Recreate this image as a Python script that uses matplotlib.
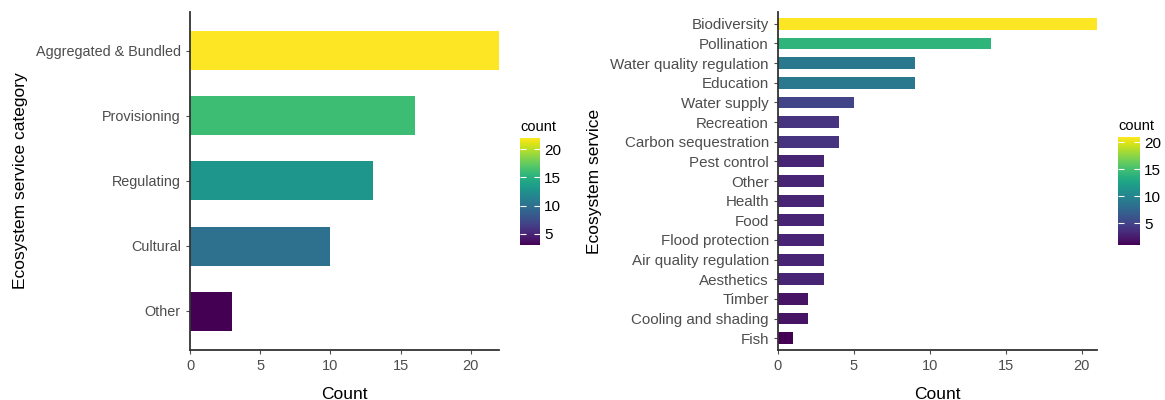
import numpy as np
import matplotlib
matplotlib.use("Agg")
import matplotlib.pyplot as plt
from matplotlib import cm, colors

plt.rcParams['font.family'] = ['Liberation Sans', 'DejaVu Sans']

# left panel data
categories = ["Aggregated & Bundled", "Provisioning", "Regulating", "Cultural", "Other"]
category_counts = [22, 16, 13, 10, 3]

# right panel data
services = ["Biodiversity", "Pollination", "Water quality regulation", "Education",
            "Water supply", "Recreation", "Carbon sequestration", "Pest control",
            "Other", "Health", "Food", "Flood protection", "Air quality regulation",
            "Aesthetics", "Timber", "Cooling and shading", "Fish"]
service_counts = [21, 14, 9, 9, 5, 4, 4, 3, 3, 3, 3, 3, 3, 3, 2, 2, 1]

cbar_ticks = [5, 10, 15, 20]
TICK_GRAY = "#4d4d4d"


def bar_panel(fig, rect, cbar_rect, labels, values, ylabel, label_size):
    ax = fig.add_axes(rect)
    n = len(labels)
    ypos = np.arange(n, 0, -1)  # first label at top
    norm = colors.Normalize(vmin=min(values), vmax=max(values))
    cmap = plt.get_cmap("viridis")
    ax.barh(ypos, values, height=0.6, color=cmap(norm(np.array(values))))
    ax.set_yticks(ypos)
    ax.set_yticklabels(labels)
    ax.set_ylim(0.4, n + 0.6)
    ax.set_xlim(0, max(values))
    ax.set_xticks([0, 5, 10, 15, 20])
    for s in ["top", "right"]:
        ax.spines[s].set_visible(False)
    for s in ["left", "bottom"]:
        ax.spines[s].set_linewidth(1.3)
        ax.spines[s].set_color("#333333")
    ax.tick_params(axis="y", labelsize=label_size, colors=TICK_GRAY, length=3, width=0.8)
    ax.tick_params(axis="x", labelsize=10.5, colors=TICK_GRAY, length=3, width=0.8)
    ax.set_xlabel("Count", fontsize=12.5, labelpad=10)
    ax.set_ylabel(ylabel, fontsize=12.5, labelpad=6)

    # colour legend in ggplot style
    cax = fig.add_axes(cbar_rect)
    cb = fig.colorbar(cm.ScalarMappable(norm=norm, cmap=cmap), cax=cax)
    cb.outline.set_visible(False)
    cb.set_ticks(cbar_ticks)
    cax.tick_params(length=4, width=0.8, colors="white", direction="in",
                    labelcolor="black", labelsize=11, left=True, right=True, pad=3)
    cax.set_title("count", fontsize=10.5, loc="left", pad=5)
    return ax


fig = plt.figure(figsize=(11.65, 4.0), dpi=100)
bar_panel(fig, [0.1631, 0.125, 0.2652, 0.845], [0.4464, 0.3875, 0.0172, 0.2675],
          categories, category_counts, "Ecosystem service category", 10.4)
bar_panel(fig, [0.6678, 0.125, 0.2738, 0.845], [0.9597, 0.3875, 0.0189, 0.27],
          services, service_counts, "Ecosystem service", 10.9)

fig.savefig("out.png", dpi=100, facecolor="white")
